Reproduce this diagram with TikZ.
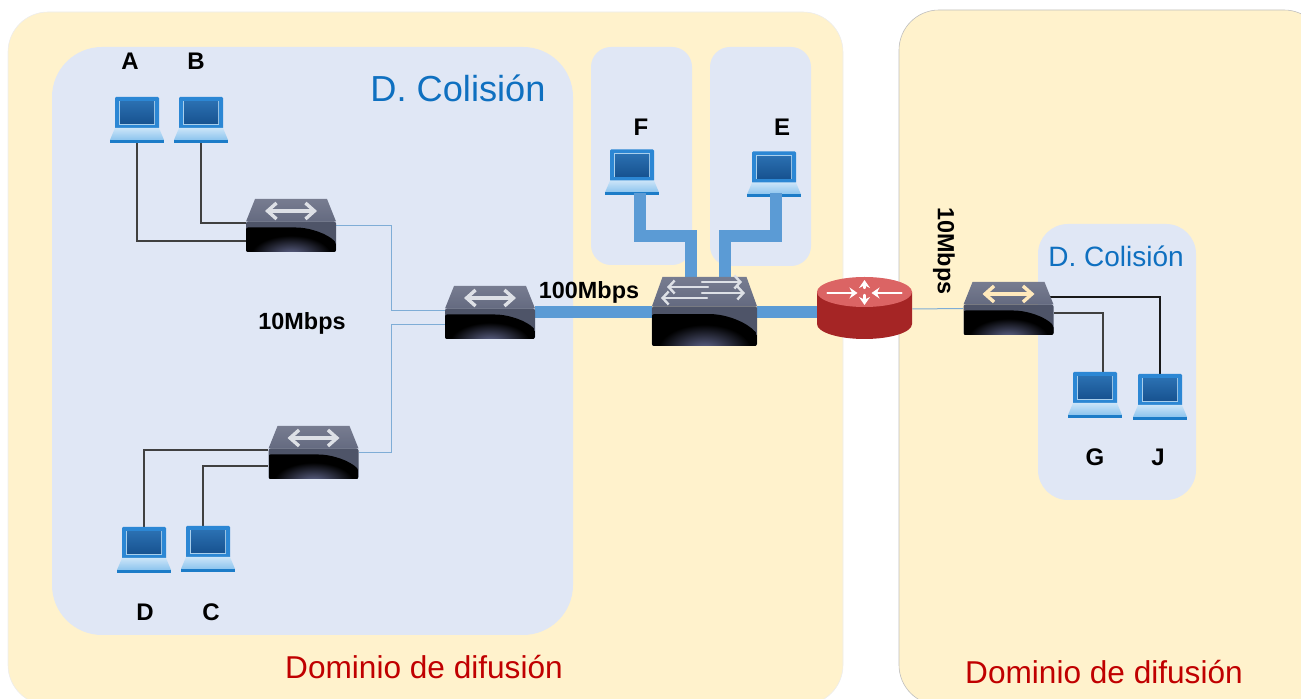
\documentclass[tikz,border=0pt]{standalone}
\usepackage{fontspec}
\setmainfont{Liberation Sans}
\usetikzlibrary{calc,arrows.meta}
\definecolor{yellowzone}{HTML}{FFF2CC}
\definecolor{bluezone}{HTML}{E0E7F5}
\definecolor{linkblue}{HTML}{5B9BD5}
\definecolor{thinblue}{HTML}{7FADD6}
\definecolor{titleblue}{HTML}{0F70C0}
\definecolor{titlered}{HTML}{C00000}
\definecolor{arrowwhite}{HTML}{DDE0E6}
\definecolor{arrowyellow}{HTML}{FFE9BC}
\definecolor{pcframe}{HTML}{2C87D4}
\definecolor{pcedge}{HTML}{A9CFEC}
\definecolor{pcscreenA}{HTML}{2A6FB0}
\definecolor{pcscreenB}{HTML}{175290}
\definecolor{pcbaseA}{HTML}{CBE4F8}
\definecolor{pcbaseB}{HTML}{8CC4EE}
\definecolor{pcstrip}{HTML}{1C7CC8}
\definecolor{swtopA}{HTML}{777C90}
\definecolor{swtopB}{HTML}{646A80}
\definecolor{swband}{HTML}{4E5468}
\definecolor{swglow}{HTML}{666C94}
\definecolor{routeredge}{HTML}{A52525}
\definecolor{routermid}{HTML}{D87878}
\definecolor{routertop}{HTML}{DB6464}
\newcommand{\swbody}{
	\shade[top color=swtopA, bottom color=swtopB] (-36,-26.5)--(36,-26.5)--(45,-4)--(-45,-4)--cycle;
	\fill[swband, rounded corners=1pt] (-45,-4) rectangle (45,26.5);
	\begin{scope}
		\clip[rounded corners=1pt] (-45,2)--(7,2) .. controls (20,3) and (36,8) .. (45,17)--(45,26.5)--(-45,26.5)--cycle;
		\fill[black] (-45,0) rectangle (45,27);
		\shade[inner color=swglow, outer color=black] (0,30) ellipse[x radius=40, y radius=20];
	\end{scope}
}
\tikzset{
	broadcast/.style={fill=yellowzone, draw=black!#1, line width=.3pt, rounded corners=20pt},
	collision/.style={fill=bluezone, rounded corners=#1},
	hostnode/.style={minimum width=27pt, minimum height=23pt, inner sep=0pt},
	swnode/.style={minimum width=45pt, minimum height=26.5pt, inner sep=0pt},
	corenode/.style={minimum width=52.5pt, minimum height=34.5pt, inner sep=0pt},
	routernode/.style={minimum width=47.5pt, minimum height=31pt, inner sep=0pt},
	graylink/.style={draw=black!75, line width=.55pt},
	bluelink/.style={draw=thinblue, line width=.5pt},
	fatlink/.style={draw=linkblue, line width=6pt},
	swarrow/.style={<->, >={Straight Barb[length=4.5pt,width=8pt]}, line width=1.7pt, line cap=round},
	coreflow/.style={->, >={Straight Barb[length=3pt,width=6.5pt]}, line width=1.2pt, draw=arrowwhite, line cap=round},
	hostlabel/.style={font=\bfseries\fontsize{12}{14}\selectfont, inner sep=0pt},
	ratelabel/.style={font=\bfseries\fontsize{11.7}{14}\selectfont, inner sep=0pt},
	pics/laptop/.style={code={
		\fill[pcframe, rounded corners=.6pt] (-22,-23) rectangle (22,9);
		\fill[pcedge] (-18,-19) rectangle (18,5);
		\shade[top color=pcscreenA, bottom color=pcscreenB] (-17,-18) rectangle (17,4);
		\shade[top color=pcbaseA, bottom color=pcbaseB] (-22,8)--(22,8)--(27,20)--(-27,20)--cycle;
		\fill[pcstrip] (-27,20) rectangle (27,23);
	}},
	pics/swbox/.style={code={
		\swbody
		\draw[swarrow, draw=#1] (-26,-14.5)--(26,-14.5);
	}},
	pics/coreswitch/.style={code={
		\begin{scope}[xscale=1.167, yscale=1.302]
			\swbody
		\end{scope}
		\draw[coreflow] (-2.5,-29.5)--(37.5,-29.5);
		\draw[coreflow] (3.5,-24.5)--(-37.5,-24.5);
		\draw[coreflow] (-2.5,-18.5)--(40.5,-18.5);
		\draw[coreflow] (2.5,-13.5)--(-43.5,-13.5);
	}},
	pics/routerbox/.style={code={
		\shade[left color=routeredge, middle color=routermid, right color=routeredge] (-47.5,-16) -- (-47.5,16) arc[x radius=47.5, y radius=15, start angle=180, end angle=0] -- (47.5,-16) -- cycle;
		\fill[routertop] (0,-16) ellipse[x radius=47.5, y radius=15];
		\begin{scope}[line width=1.2pt, white, line cap=round, >={Stealth[length=4pt,width=5.5pt]}]
			\draw[->] (-37,-15)--(-7,-15);
			\draw[->] (37,-15)--(7,-15);
			\draw[->] (0,-20)--(0,-28);
			\draw[->] (0,-13)--(0,-3);
		\end{scope}
	}},
}
\begin{document}
\begin{tikzpicture}[x=.5pt, y=-.5pt, line join=miter]
	\useasboundingbox (0,0) rectangle (1301,699);
	\clip (0,0) rectangle (1301,699);
	% zones
	\draw[broadcast=7] (8,12) rectangle (843,705);
	\draw[broadcast=25] (899,10) rectangle (1324,705);
	\fill[collision=25pt] (52,47) rectangle (573,635);
	\fill[collision=10pt] (591,47) rectangle (692,265);
	\fill[collision=10pt] (710,47) rectangle (811,266);
	\fill[collision=15pt] (1038,224) rectangle (1196,500);
	% devices, still empty
	\foreach \n/\x/\y in {pcA/137/120,pcB/201/120,pcC/208/549,pcD/144/550,pcF/632/172.5,pcE/774/174.5,pcG/1095/395,pcJ/1160/397}
		\node[hostnode] (\n) at (\x,\y) {};
	\node[swnode] (swA) at (291,225.5) {};
	\node[swnode] (swB) at (313.5,452.5) {};
	\node[swnode] (swC) at (490,312.5) {};
	\node[swnode] (swD) at (1008.5,308.5) {};
	\node[corenode] (swCore) at (704.5,311.5) {};
	\node[routernode] (router) at (864.5,308) {};
	% thin links
	\draw[graylink] (pcA.south) |- ($(swA.west)+(0,15.5)$);
	\draw[graylink] (pcB.south) |- ($(swA.west)+(0,-2.5)$);
	\draw[graylink] (pcD.north) |- ($(swB.west)+(0,-2.5)$);
	\draw[graylink] ($(pcC.north)+(-5,0)$) |- ($(swB.west)+(0,13.5)$);
	\draw[bluelink] (swA.east) -| (391,311) -- ($(swC.west)+(0,-1.5)$);
	\draw[bluelink] (swB.east) -| (391,325) -- ($(swC.west)+(0,12.5)$);
	\draw[bluelink] ($(router.east)+(0,1)$) -- (swD.west);
	\draw[graylink] ($(swD.east)+(0,4.5)$) -| ($(pcG.north)+(8,0)$);
	\draw[draw=black!90, line width=.55pt] ($(swD.east)+(-4,-11.5)$) -| (pcJ.north);
	% laptops
	\foreach \n in {pcA,pcB,pcC,pcD,pcF,pcE,pcG,pcJ}
		\pic at (\n) {laptop};
	% fast links
	\coordinate (jointF) at (691,236);
	\coordinate (jointE) at (725,236);
	\draw[fatlink] ($(pcF.south)+(8,-3)$) |- (jointF) -- (jointF |- swCore.north);
	\draw[fatlink] ($(pcE.south)+(2,-5)$) |- (jointE) -- (jointE |- swCore.north);
	\draw[fatlink] (swC.east) -- (swC.east -| swCore.west);
	\draw[fatlink] (swC.east -| swCore.east) -- (swC.east -| router.center);
	% switches
	\pic at (swA) {swbox=arrowwhite};
	\pic at (swB) {swbox=arrowwhite};
	\pic at (swC) {swbox=arrowwhite};
	\pic at (swD) {swbox=arrowyellow};
	\pic at (swCore) {coreswitch};
	\pic at (router) {routerbox};
	% labels
	\foreach \t/\x/\y in {A/130/61,B/196/61,F/641/127,E/782/127,D/145/612,C/211/612,G/1095/457,J/1158/457}
		\node[hostlabel] (label\t) at (\x,\y) {\t};
	\node[ratelabel] (rateA) at (302,323.5) {10Mbps};
	\node[ratelabel] (rateB) at (589,292.5) {100Mbps};
	\node[ratelabel, rotate=-90] (rateC) at (944,251) {10Mbps};
	\node[text=titleblue, inner sep=0pt, font=\fontsize{18.1}{20}\selectfont] (colA) at (458,88) {D. Colisión};
	\node[text=titleblue, inner sep=0pt, font=\fontsize{14}{16}\selectfont] (colB) at (1116,256) {D. Colisión};
	\node[text=titlered, inner sep=0pt, font=\fontsize{15.8}{18}\selectfont] (domA) at (424,667) {Dominio de difusión};
	\node[text=titlered, inner sep=0pt, font=\fontsize{15.8}{18}\selectfont] (domB) at (1104,672) {Dominio de difusión};
\end{tikzpicture}
\end{document}
